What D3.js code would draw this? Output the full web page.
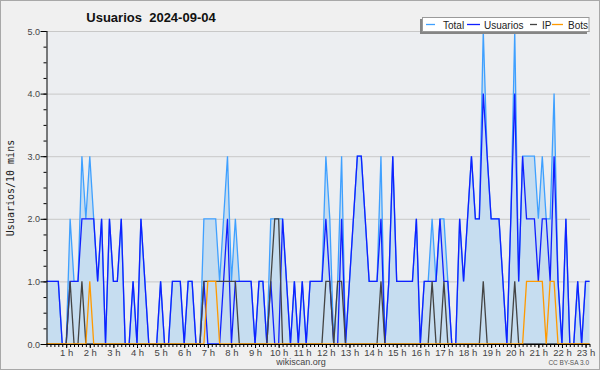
<!DOCTYPE html>
<html>
<head>
<meta charset="utf-8">
<script src="https://cdn.jsdelivr.net/npm/d3@7"></script>
<style>
  body { margin: 0; background: #f0f0f0; }
  svg { display: block; }
</style>
</head>
<body>
<svg id="grafico"></svg>
<script>
// valores cada 10 minutos, de 00:10 a 23:00
const total = [1,1,1,1,0,0,2,1,1,3, 2,3,2,1,2,0,2,1,1,2, 0,0,1,0,2,1,0,0,0,1,
  0,0,1,1,1,0,1,1,0,0, 2,2,2,2,1,2,3,1,2,1, 1,1,1,0,1,1,0,2,2,2,
  2,1,0,1,0,1,0,1,1,1, 1,3,2,0,1,3,0,1,2,3, 3,2,1,1,1,3,0,1,3,1,
  1,1,1,1,2,0,1,1,2,1, 2,2,1,0,0,2,1,2,3,2, 2,5,3,2,2,2,1,0,2,5,
  1,3,3,3,3,2,3,2,2,4, 1,0,2,0,0,1,0,1,1];
const usuarios = [1,1,1,1,0,0,1,1,1,2, 2,2,2,1,2,0,2,1,1,2, 0,0,1,0,2,1,0,0,0,1,
  0,0,1,1,1,0,1,1,0,0, 1,0,0,0,0,1,2,0,1,1, 1,1,1,0,1,1,0,1,0,0,
  2,1,0,1,0,1,0,1,1,1, 1,2,1,0,0,2,0,1,2,3, 3,2,1,1,1,2,0,1,3,1,
  1,1,1,1,2,0,1,1,1,1, 2,1,1,0,0,2,1,2,3,2, 2,4,3,2,2,2,1,0,2,4,
  1,3,2,2,2,1,2,2,1,3, 1,0,2,0,0,1,0,1,1];
const ip = [0,0,0,0,0,0,1,0,0,1, 0,0,0,0,0,0,0,0,0,0, 0,0,0,0,0,0,0,0,0,0,
  0,0,0,0,0,0,0,0,0,0, 1,1,1,1,1,1,1,1,1,0, 0,0,0,0,0,0,0,1,2,2,
  0,0,0,0,0,0,0,0,0,0, 0,1,1,0,1,1,0,0,0,0, 0,0,0,0,0,1,0,0,0,0,
  0,0,0,0,0,0,0,0,1,0, 0,1,0,0,0,0,0,0,0,0, 0,1,0,0,0,0,0,0,0,1,
  0,0,0,0,0,0,0,0,0,0, 0,0,0,0,0,0,0,0,0];
const bots = [0,0,0,0,0,0,0,0,0,0, 0,1,0,0,0,0,0,0,0,0, 0,0,0,0,0,0,0,0,0,0,
  0,0,0,0,0,0,0,0,0,0, 0,1,1,1,0,0,0,0,0,0, 0,0,0,0,0,0,0,0,0,0,
  0,0,0,0,0,0,0,0,0,0, 0,0,0,0,0,0,0,0,0,0, 0,0,0,0,0,0,0,0,0,0,
  0,0,0,0,0,0,0,0,0,0, 0,0,0,0,0,0,0,0,0,0, 0,0,0,0,0,0,0,0,0,0,
  0,0,1,1,1,1,1,0,1,1, 0,0,0,0,0,0,0,0,0];
const horas = [1,2,3,4,5,6,7,8,9,10,11,12,13,14,15,16,17,18,19,20,21,22,23];
const etiquetasHoras = ["1 h","2 h","3 h","4 h","5 h","6 h","7 h","8 h","9 h","10 h","11 h","12 h",
  "13 h","14 h","15 h","16 h","17 h","18 h","19 h","20 h","21 h","22 h","23 h"];
const valoresY = [0, 1, 2, 3, 4, 5];
const series = [
  { nombre: "Total", datos: total, color: "#3fa0ff" },
  { nombre: "Usuarios", datos: usuarios, color: "#1020ff" },
  { nombre: "IP", datos: ip, color: "#444444" },
  { nombre: "Bots", datos: bots, color: "#ff9a00" }
];

const width = 600, height = 370;
const izq = 46.5, der = 590, arriba = 31, abajo = 344;

const svg = d3.select('#grafico').attr('width', width).attr('height', height);

// fondo y marco
svg.append('rect').attr('x', 0.5).attr('y', 0.5).attr('width', width - 1).attr('height', height - 1)
  .attr('fill', '#f0f0f0').attr('stroke', '#a8a8a8');
svg.append('rect').attr('x', izq).attr('y', arriba).attr('width', der - izq).attr('height', abajo - arriba)
  .attr('fill', '#eceef1');

const minutos = total.map((d, i) => (i + 1) * 10);
const x = d3.scaleLinear().domain([10, 1390]).range([izq, 589.5]);
const y = d3.scaleLinear().domain([0, 5]).range([abajo, arriba]);

// rejilla
svg.append('g').selectAll('line').data(valoresY.slice(1)).join('line')
  .attr('x1', izq).attr('x2', der)
  .attr('y1', d => y(d) + 0.5).attr('y2', d => y(d) + 0.5)
  .attr('stroke', '#c8c8c8').attr('stroke-width', 1);

// area total
svg.append('path').datum(total)
  .attr('fill', '#c6ddf0')
  .attr('d', d3.area().x((d, i) => x(minutos[i])).y0(y(0)).y1(d => y(d)));

// lineas
series.forEach(s => {
  svg.append('path').datum(s.datos)
    .attr('fill', 'none').attr('stroke', s.color).attr('stroke-width', 1.3)
    .attr('d', d3.line().x((d, i) => x(minutos[i])).y(d => y(d)));
});

// eje y
const ejeYmenor = svg.append('g').attr('transform', `translate(${izq},0)`)
  .call(d3.axisLeft(y).tickValues(d3.range(0, 5.01, 0.25)).tickSize(3).tickFormat(''));
ejeYmenor.select('.domain').remove();
const ejeY = svg.append('g').attr('transform', `translate(${izq},0)`)
  .call(d3.axisLeft(y).tickValues(valoresY).tickSize(6).tickSizeOuter(0).tickFormat(d3.format('.1f')));
ejeY.selectAll('text').attr('font-family', 'Liberation Sans, Arial, sans-serif').attr('font-size', 9)
  .attr('fill', '#444').attr('x', -6.5).attr('dy', '0.35em');
ejeY.select('.domain').attr('d', `M0.5,${arriba}V${abajo}`).attr('stroke', '#000');

// eje x
const ejeXmenor = svg.append('g').attr('transform', `translate(0,${abajo})`)
  .call(d3.axisBottom(x).tickValues(minutos).tickSize(3).tickFormat(''));
ejeXmenor.select('.domain').remove();
const ejeX = svg.append('g').attr('transform', `translate(0,${abajo})`)
  .call(d3.axisBottom(x).tickValues(horas.map(h => h * 60)).tickSize(4).tickSizeOuter(0)
    .tickFormat((d, i) => etiquetasHoras[i]));
ejeX.select('.domain').attr('d', `M${izq},0.5H${der}`).attr('stroke', '#000');
ejeX.selectAll('text').attr('font-family', 'Liberation Sans, Arial, sans-serif').attr('font-size', 9.5)
  .attr('fill', '#444').attr('y', 5).attr('dy', '0.71em');
svg.selectAll('.tick line').attr('stroke', '#000');

// titulos
svg.append('text').attr('x', 151).attr('y', 21.5).attr('text-anchor', 'middle')
  .attr('font-family', 'Liberation Sans, Arial, sans-serif').attr('font-weight', 'bold').attr('font-size', 13)
  .attr('fill', '#111').attr('xml:space', 'preserve').text('Usuarios  2024-09-04');
svg.append('text').attr('transform', 'translate(14,188) rotate(-90)').attr('text-anchor', 'middle')
  .attr('font-family', 'DejaVu Sans Mono, monospace').attr('font-size', 10).attr('fill', '#222')
  .text('Usuarios/10 mins');
svg.append('text').attr('x', 301).attr('y', 364.5).attr('text-anchor', 'middle')
  .attr('font-family', 'Liberation Sans, Arial, sans-serif').attr('font-size', 9).attr('fill', '#444')
  .text('wikiscan.org');
svg.append('text').attr('x', 589).attr('y', 365).attr('text-anchor', 'end')
  .attr('font-family', 'Liberation Sans, Arial, sans-serif').attr('font-size', 6.5).attr('fill', '#555')
  .text('CC BY-SA 3.0');

// leyenda
const ley = svg.append('g');
ley.append('rect').attr('x', 420).attr('y', 19).attr('width', 167).attr('height', 15).attr('fill', '#858585');
ley.append('rect').attr('x', 422.5).attr('y', 17.5).attr('width', 166.5).attr('height', 14)
  .attr('fill', '#fff').attr('stroke', '#9a9a9a');
const lineasLeyenda = [[426, 435], [467, 480], [530, 537], [552, 563]];
const textosLeyenda = [443, 484, 542, 568];
series.forEach((s, i) => {
  ley.append('line').attr('x1', lineasLeyenda[i][0]).attr('x2', lineasLeyenda[i][1])
    .attr('y1', 24.5).attr('y2', 24.5).attr('stroke', s.color).attr('stroke-width', 1.3);
  ley.append('text').attr('x', textosLeyenda[i]).attr('y', 28.5)
    .attr('font-family', 'Liberation Sans, Arial, sans-serif').attr('font-size', 10).attr('fill', '#222')
    .text(s.nombre);
});
</script>
</body>
</html>
